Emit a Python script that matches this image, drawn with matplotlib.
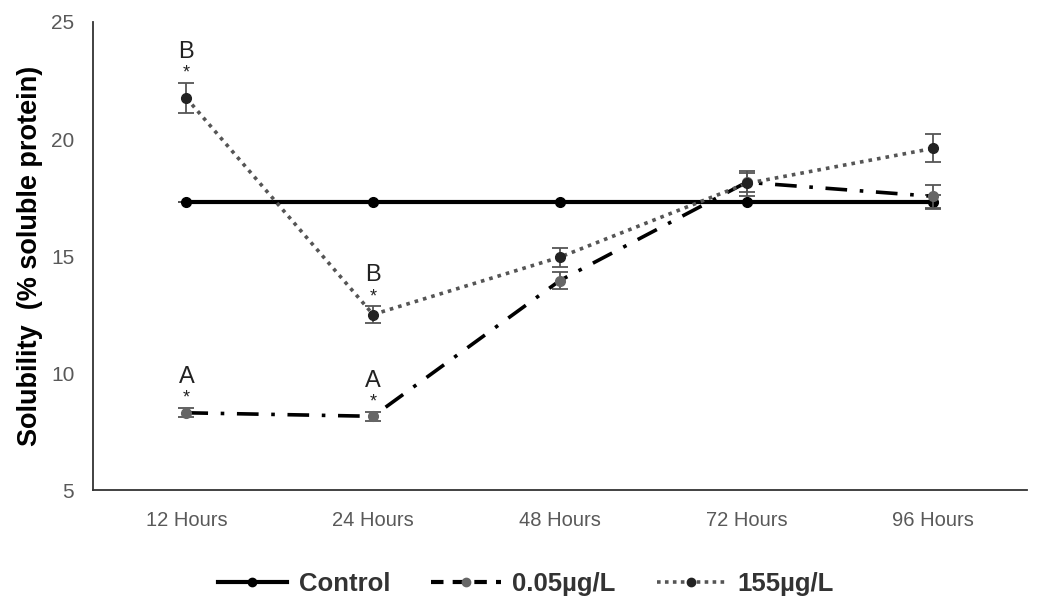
import matplotlib
matplotlib.use("Agg")
import matplotlib.pyplot as plt
from matplotlib.lines import Line2D

plt.rcParams["font.family"] = ["Liberation Sans", "DejaVu Sans"]

categories = ["12 Hours", "24 Hours", "48 Hours", "72 Hours", "96 Hours"]
control = [17.3, 17.3, 17.3, 17.3, 17.3]
control_err = [0, 0, 0, 0, 0.3]
low = [8.3, 8.15, 13.95, 18.15, 17.55]
low_err = [0.2, 0.2, 0.35, 0.4, 0.5]
high = [21.75, 12.5, 14.95, 18.1, 19.6]
high_err = [0.65, 0.35, 0.4, 0.55, 0.6]
annotations = [(0, 21.75 + 0.65, "B"), (1, 12.5 + 0.35, "B"), (0, 8.3 + 0.2, "A"), (1, 8.15 + 0.2, "A")]

fig = plt.figure(figsize=(10.37, 6.06), dpi=100)
ax = fig.add_axes([0.0897, 0.1914, 0.9003, 0.7723])
x = list(range(len(categories)))

ax.errorbar(x, control, yerr=control_err, color="black", lw=3, marker="o", ms=7,
            mfc="black", mec="black", ecolor="#555555", elinewidth=1.3, capsize=6, capthick=1.3, zorder=3)
ax.errorbar(x, low, yerr=low_err, color="black", lw=2.6, ls=(0, (6, 3.5, 1, 3.5)), marker="o", ms=7,
            mfc="#666666", mec="#666666", ecolor="#555555", elinewidth=1.3, capsize=6, capthick=1.3, zorder=4)
ax.errorbar(x, high, yerr=high_err, color="#555555", lw=2.6, ls=(0, (1, 1.4)), marker="o", ms=7,
            mfc="#222222", mec="#222222", ecolor="#555555", elinewidth=1.3, capsize=6, capthick=1.3, zorder=5)

for xi, top, lab in annotations:
    ax.text(xi, top + 0.05, "*", ha="center", va="bottom", fontsize=13, color="#222222")
    ax.text(xi, top + 0.85, lab, ha="center", va="bottom", fontsize=17, color="#222222")

ax.set_xlim(-0.5, 4.5)
ax.set_ylim(5, 25)
ax.set_yticks([5, 10, 15, 20, 25])
ax.set_xticks(x)
ax.set_xticklabels(categories)
ax.tick_params(axis="both", length=0, labelcolor="#595959")
ax.tick_params(axis="x", pad=15, labelsize=14.5)
ax.tick_params(axis="y", pad=13.5, labelsize=15)
for s in ["top", "right"]:
    ax.spines[s].set_visible(False)
for s in ["left", "bottom"]:
    ax.spines[s].set_color("#333333")
    ax.spines[s].set_linewidth(1.3)
ax.set_ylabel("Solubility  (% soluble protein)", fontsize=19.5, fontweight="bold", labelpad=5.5)

handles = [
    Line2D([], [], color="black", lw=3, marker="o", ms=6, mfc="black", mec="black"),
    Line2D([], [], color="black", lw=3, ls=(0, (3, 2.2)), marker="o", ms=6, mfc="#666666", mec="#666666"),
    Line2D([], [], color="#555555", lw=2.6, ls=(0, (1, 1.2)), marker="o", ms=6, mfc="#222222", mec="#222222"),
]
fig.legend(handles, ["Control", "0.05µg/L", "155µg/L"], loc="center", bbox_to_anchor=(0.507, 0.037),
           ncol=3, frameon=False, prop={"size": 18.5, "weight": "bold"}, handlelength=2.7,
           columnspacing=1.6, handletextpad=0.45, labelcolor="#333333")

fig.savefig("out.png", dpi=100)
